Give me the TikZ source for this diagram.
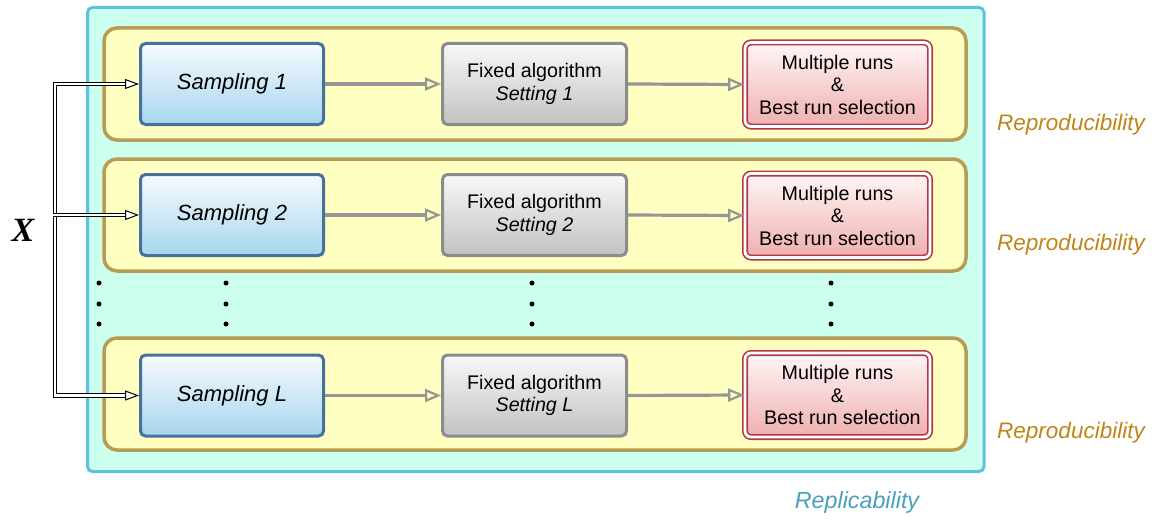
\documentclass[tikz,border=0pt]{standalone}
\usepackage{fontspec}
\setmainfont{Liberation Sans}
\newfontfamily\serifX{Liberation Serif}
\usetikzlibrary{arrows.meta}
\definecolor{mint}{HTML}{CCFFEE}
\definecolor{cyanB}{HTML}{5BC3E0}
\definecolor{yel}{HTML}{FFFFC2}
\definecolor{tanB}{HTML}{B89B55}
\definecolor{blueB}{HTML}{4570A0}
\definecolor{blueT}{HTML}{F7FBFE}
\definecolor{blueBot}{HTML}{A6D6EE}
\definecolor{grayB}{HTML}{8C8C8C}
\definecolor{grayT}{HTML}{F8F8F8}
\definecolor{grayBot}{HTML}{C2C2C2}
\definecolor{redB}{HTML}{B03848}
\definecolor{redT}{HTML}{FFF6F6}
\definecolor{redBot}{HTML}{EFAFAF}
\definecolor{flowgray}{HTML}{969696}
\definecolor{reproC}{HTML}{C08418}
\definecolor{replicC}{HTML}{4AA0BA}
\tikzset{
 outerbox/.style={draw=cyanB, fill=mint, line width=3pt, rounded corners=5pt},
 rowbox/.style={draw=tanB, fill=yel, line width=3.5pt, rounded corners=13pt},
 sampbox/.style={draw=blueB, line width=3pt, rounded corners=5pt, top color=blueT, bottom color=blueBot, minimum width=183pt, minimum height=81pt, inner sep=0pt, font=\fontsize{22}{26}\selectfont\itshape},
 algbox/.style={draw=grayB, line width=3pt, rounded corners=5pt, top color=grayT, bottom color=grayBot, minimum width=184pt, minimum height=81pt, inner sep=0pt, align=center, font=\fontsize{19.7}{22.5}\selectfont},
 runbox/.style={draw=redB, line width=1.6pt, double=white, double distance=2.8pt, rounded corners=6pt, top color=redT, bottom color=redBot, minimum width=185pt, minimum height=84pt, inner sep=0pt, align=center, font=\fontsize{19.7}{22.5}\selectfont},
 flow/.style={draw=flowgray, line width=3.2pt, -{Triangle[open, line width=2.2pt, length=16pt, width=13pt]}},
 feed/.style={draw=black, line width=1pt, double=white, double distance=2.2pt},
 feedtip/.style={draw=black, line width=1pt, -{Triangle[fill=white, length=14pt, width=10pt]}},
 dotmark/.style={circle, fill=black, inner sep=0pt, minimum size=5pt},
 repro/.style={text=reproC, font=\fontsize{22.5}{26}\selectfont\itshape},
 replic/.style={text=replicC, font=\fontsize{23.3}{26}\selectfont\itshape},
}
\begin{document}
\begin{tikzpicture}[x=1pt,y=-1pt]
\useasboundingbox (0,0) rectangle (1161,519);
% outer replicability box
\draw[outerbox] (87.5,7.5) rectangle (984,471.5);
% reproducibility rows
\draw[rowbox] (104,28) rectangle (966,140);
\draw[rowbox] (104,159) rectangle (966,271);
\draw[rowbox] (104,338) rectangle (966,450);
% row 1
\node[sampbox] (s1) at (232,84) {Sampling 1};
\node[algbox] (g1) at (534.5,84) {Fixed algorithm\\\itshape Setting 1};
\node[runbox] (r1) at (837.5,84.5) {Multiple runs\\\&\\Best run selection};
% row 2
\node[sampbox] (s2) at (232,215) {Sampling 2};
\node[algbox] (g2) at (534.5,215) {Fixed algorithm\\\itshape Setting 2};
\node[runbox] (r2) at (837.5,215.5) {Multiple runs\\\&\\Best run selection};
% row L
\node[sampbox] (s3) at (232,395.5) {Sampling L};
\node[algbox] (g3) at (534.5,395.5) {Fixed algorithm\\\itshape Setting L};
\node[runbox] (r3) at (837.5,395) {Multiple runs\\\&\\\hspace*{0.5em}Best run selection};
% flow arrows
\foreach \i in {1,2,3}{
  \draw[flow] (s\i.east) -- (g\i.west);
  \draw[flow] (g\i.east) -- (r\i.west);
}
% input X and feed lines
\node[font=\fontsize{34}{34}\selectfont\serifX\bfseries\itshape] (X) at (23,230) {X};
\coordinate (c1) at (55,84);
\coordinate (c2) at (55,215);
\coordinate (c3) at (55,395.5);
\draw[feed] ([xshift=-13pt]s1.west) -- (c1) -- (c3) -- ([xshift=-13pt]s3.west);
\draw[feed] ([xshift=-2pt]c2) -- ([xshift=-13pt]s2.west);
\foreach \i in {1,2,3}{
  \draw[feedtip] ([xshift=-14pt]s\i.west) -- (s\i.west);
}
% vertical dots
\foreach \xx [count=\j] in {99,226,532,831}{
  \foreach \yy [count=\k] in {283,304,324}{
    \node[dotmark] (d\j\k) at (\xx,\yy) {};
  }
}
% labels
\node[repro] (rep1) at (1071,125) {Reproducibility};
\node[repro] (rep2) at (1071,245) {Reproducibility};
\node[repro] (rep3) at (1071,433) {Reproducibility};
\node[replic] (repl) at (857,502) {Replicability};
\end{tikzpicture}
\end{document}
